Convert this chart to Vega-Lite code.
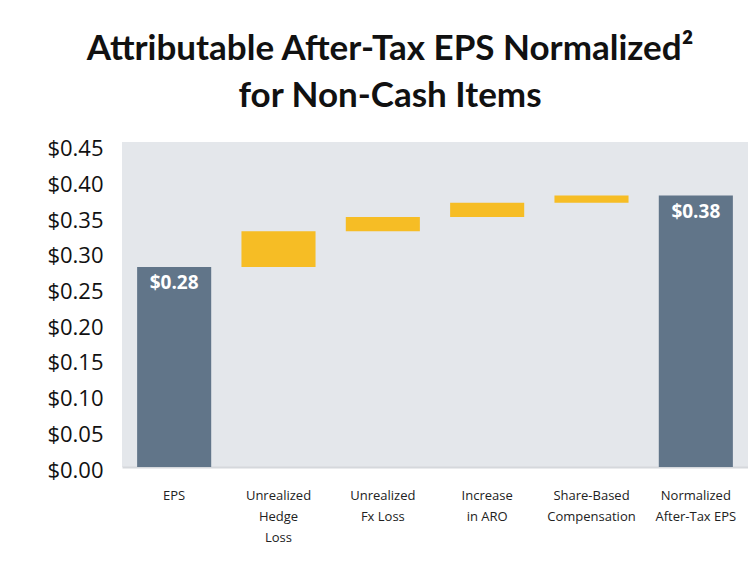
{
  "$schema": "https://vega.github.io/schema/vega-lite/v6.json",
  "width": 626,
  "height": 325,
  "autosize": {"type": "none"},
  "padding": {"left": 122, "top": 142, "right": 0, "bottom": 101},
  "background": "white",
  "title": {
    "text": ["Attributable After-Tax EPS Normalized²", "for Non-Cash Items"],
    "font": "Lato",
    "fontSize": 35,
    "fontWeight": "bold",
    "color": "#111111",
    "lineHeight": 47,
    "anchor": "middle",
    "dx": -45,
    "offset": 24
  },
  "data": {
    "values": [
      {"step": "EPS", "start": 0, "end": 0.28, "kind": "total", "label": "$0.28"},
      {"step": "Unrealized|Hedge|Loss", "start": 0.28, "end": 0.33, "kind": "change", "label": ""},
      {"step": "Unrealized|Fx Loss", "start": 0.33, "end": 0.35, "kind": "change", "label": ""},
      {"step": "Increase|in ARO", "start": 0.35, "end": 0.37, "kind": "change", "label": ""},
      {"step": "Share-Based|Compensation", "start": 0.37, "end": 0.38, "kind": "change", "label": ""},
      {"step": "Normalized|After-Tax EPS", "start": 0, "end": 0.38, "kind": "total", "label": "$0.38"}
    ]
  },
  "encoding": {
    "x": {
      "field": "step",
      "type": "nominal",
      "sort": null,
      "scale": {"paddingInner": 0.29, "paddingOuter": 0.145},
      "axis": {
        "title": null,
        "labelAngle": 0,
        "labelExpr": "split(datum.label, '|')",
        "labelFont": "Open Sans",
        "labelFontSize": 13,
        "labelColor": "#222222",
        "labelLineHeight": 21,
        "labelPadding": 22,
        "ticks": false,
        "domainColor": "#d5d8dc",
        "domainWidth": 2
      }
    },
    "y": {
      "field": "end",
      "type": "quantitative",
      "scale": {"domain": [0, 0.455], "nice": false},
      "axis": {
        "title": null,
        "values": [0, 0.05, 0.1, 0.15, 0.2, 0.25, 0.3, 0.35, 0.4, 0.45],
        "format": "$.2f",
        "labelFont": "Open Sans",
        "labelFontSize": 22,
        "labelColor": "#111111",
        "labelPadding": 19,
        "labelOffset": 3,
        "labelOverlap": false,
        "labelBound": false,
        "ticks": false,
        "domain": false,
        "grid": false
      }
    }
  },
  "layer": [
    {
      "mark": {"type": "bar", "stroke": null},
      "encoding": {
        "y2": {"field": "start"},
        "color": {
          "field": "kind",
          "type": "nominal",
          "scale": {"domain": ["total", "change"], "range": ["#617589", "#f6bd25"]},
          "legend": null
        }
      }
    },
    {
      "mark": {
        "type": "text",
        "font": "Open Sans",
        "fontSize": 19,
        "fontWeight": "bold",
        "color": "white",
        "baseline": "middle",
        "dy": 16
      },
      "encoding": {
        "text": {"field": "label"}
      }
    }
  ],
  "config": {
    "view": {"fill": "#e4e7eb", "stroke": null}
  }
}
